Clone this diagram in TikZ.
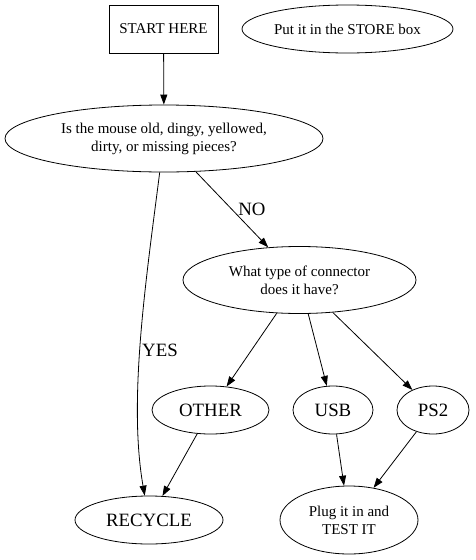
\documentclass[tikz,border=0pt]{standalone}
\usepackage{fontspec}
\setmainfont{Liberation Serif}
\usetikzlibrary{shapes.geometric,arrows.meta}

\begin{document}
\begin{tikzpicture}[x=1pt, y=-1pt, >={Triangle[length=10pt,width=7pt]},
  every node/.style={font=\fontsize{15}{18}\selectfont, align=center, inner sep=0pt},
  oval/.style={draw, ellipse, line width=0.8pt},
  bigtext/.style={font=\fontsize{18.8}{21}\selectfont},
  flow/.style={->, line width=0.8pt}]

\useasboundingbox (0,0) rectangle (475,560);

% --- Top row ---
\node[draw, rectangle, line width=0.8pt, minimum width=109pt, minimum height=48pt]
  (start) at (163.5,29) {START HERE};
\node[oval, minimum width=211pt, minimum height=48pt]
  (store) at (347.5,29) {Put it in the STORE box};

% --- Questions ---
\node[oval, minimum width=318pt, minimum height=67pt]
  (mouse) at (164,138.5) {Is the mouse old, dingy, yellowed,\\dirty, or missing pieces?};
\node[oval, minimum width=233pt, minimum height=67pt]
  (conn) at (299.5,280) {What type of connector\\does it have?};

% --- Connector types ---
\node[oval, bigtext, minimum width=117pt, minimum height=48pt] (other) at (210.5,410) {OTHER};
\node[oval, bigtext, minimum width=80pt, minimum height=48pt] (usb) at (333,410) {USB};
\node[oval, bigtext, minimum width=72pt, minimum height=48pt] (ps2) at (433,410) {PS2};

% --- Results ---
\node[oval, bigtext, minimum width=148pt, minimum height=48pt] (recycle) at (149,520) {RECYCLE};
\node[oval, minimum width=138pt, minimum height=68pt] (plug) at (349,520) {Plug it in and\\TEST IT};

% --- Edges ---
\draw[flow] (start) -- (mouse);
\draw[flow] (mouse) .. controls (146,280) and (128,400) .. (recycle);
\node[bigtext] (yes) at (160,350) {YES};
\draw[flow] (mouse) -- (conn);
\node[bigtext] (no) at (252,209) {NO};
\draw[flow] (conn) -- (other);
\draw[flow] (conn) -- (usb);
\draw[flow] (conn) -- (ps2);
\draw[flow] (other) -- (recycle);
\draw[flow] (usb) -- (plug);
\draw[flow] (ps2) -- (plug);

\end{tikzpicture}
\end{document}
